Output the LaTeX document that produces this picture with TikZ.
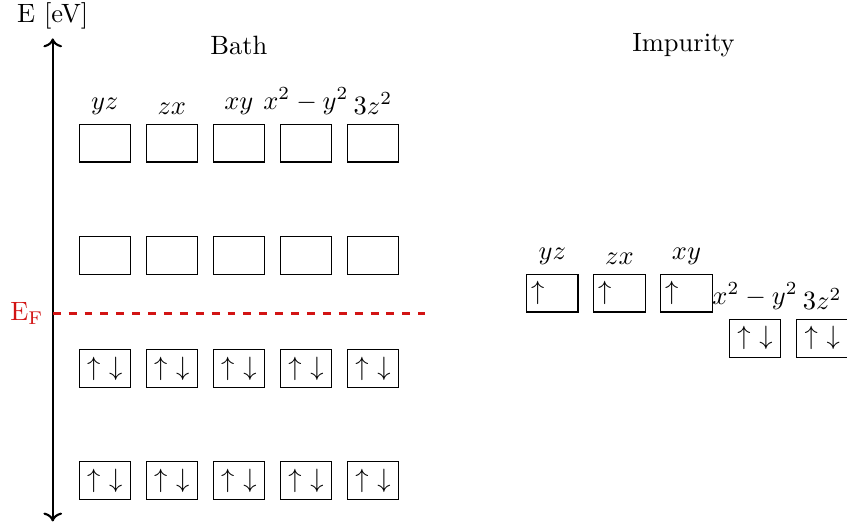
\documentclass[tikz,border=0pt]{standalone}
\usepackage{amsmath,amssymb}
\usepackage{xcolor}
\usepackage{tikz}
\usetikzlibrary{arrows.meta,positioning}
\definecolor{fermired}{RGB}{210,20,20}
\tikzset{
  orb/.style={
    draw=black,
    minimum width=0.68cm,
    minimum height=0.5cm,
    inner sep=0pt,
    align=center
  },
  axisline/.style={<->, thick},
  fermiline/.style={thick, dashed, draw=fermired}
}
\newcommand{\updn}{$\uparrow\ \downarrow$}
\newcommand{\uponly}{$\uparrow\ \phantom{\downarrow}$}

\begin{document}
\begin{tikzpicture}[node distance=0.98cm and 0.196cm]
  \useasboundingbox (-0.70,-2.83) rectangle (10.54,4.16);

  % energy axis and Fermi level
  \coordinate (ebot) at (0,-2.76);
  \coordinate (etop) at (0,3.65);
  \coordinate (ef) at (0,0);
  \coordinate (efend) at (4.94,0);
  \draw[axisline] (ebot) -- (etop);
  \node[above=0pt of etop] (elabel) {E [eV]};
  \draw[fermiline] (ef) -- (efend);
  \node[left=0pt of ef, text=fermired] (eflabel) {$\mathrm{E}_\mathrm{F}$};

  \node (bath) at (2.47,3.56) {Bath};
  \node (imp) at (8.37,3.56) {Impurity};

  % bath, empty levels
  \node[orb, label={above:$yz$}] (r1yz) at (0.69,2.26) {};
  \node[orb, label={above:$zx$}, right=of r1yz] (r1zx) {};
  \node[orb, label={above:$xy$}, right=of r1zx] (r1xy) {};
  \node[orb, label={above:$x^2-y^2$}, right=of r1xy] (r1x2y2) {};
  \node[orb, label={above:$3z^2$}, right=of r1x2y2] (r1z2) {};

  \node[orb] (r2yz) at (0.69,0.77) {};
  \node[orb, right=of r2yz] (r2zx) {};
  \node[orb, right=of r2zx] (r2xy) {};
  \node[orb, right=of r2xy] (r2x2y2) {};
  \node[orb, right=of r2x2y2] (r2z2) {};

  % bath, filled levels
  \node[orb] (r3yz) at (0.69,-0.73) {\updn};
  \node[orb, right=of r3yz] (r3zx) {\updn};
  \node[orb, right=of r3zx] (r3xy) {\updn};
  \node[orb, right=of r3xy] (r3x2y2) {\updn};
  \node[orb, right=of r3x2y2] (r3z2) {\updn};

  \node[orb] (r4yz) at (0.69,-2.22) {\updn};
  \node[orb, right=of r4yz] (r4zx) {\updn};
  \node[orb, right=of r4zx] (r4xy) {\updn};
  \node[orb, right=of r4xy] (r4x2y2) {\updn};
  \node[orb, right=of r4x2y2] (r4z2) {\updn};

  % impurity levels
  \node[orb, label={above:$yz$}] (iyz) at (6.63,0.27) {\uponly};
  \node[orb, label={above:$zx$}, right=of iyz] (izx) {\uponly};
  \node[orb, label={above:$xy$}, right=of izx] (ixy) {\uponly};
  \node[orb, label={above:$x^2-y^2$}] (ix2y2) at (9.32,-0.33) {\updn};
  \node[orb, label={above:$3z^2$}, right=of ix2y2] (iz2) {\updn};
\end{tikzpicture}
\end{document}
